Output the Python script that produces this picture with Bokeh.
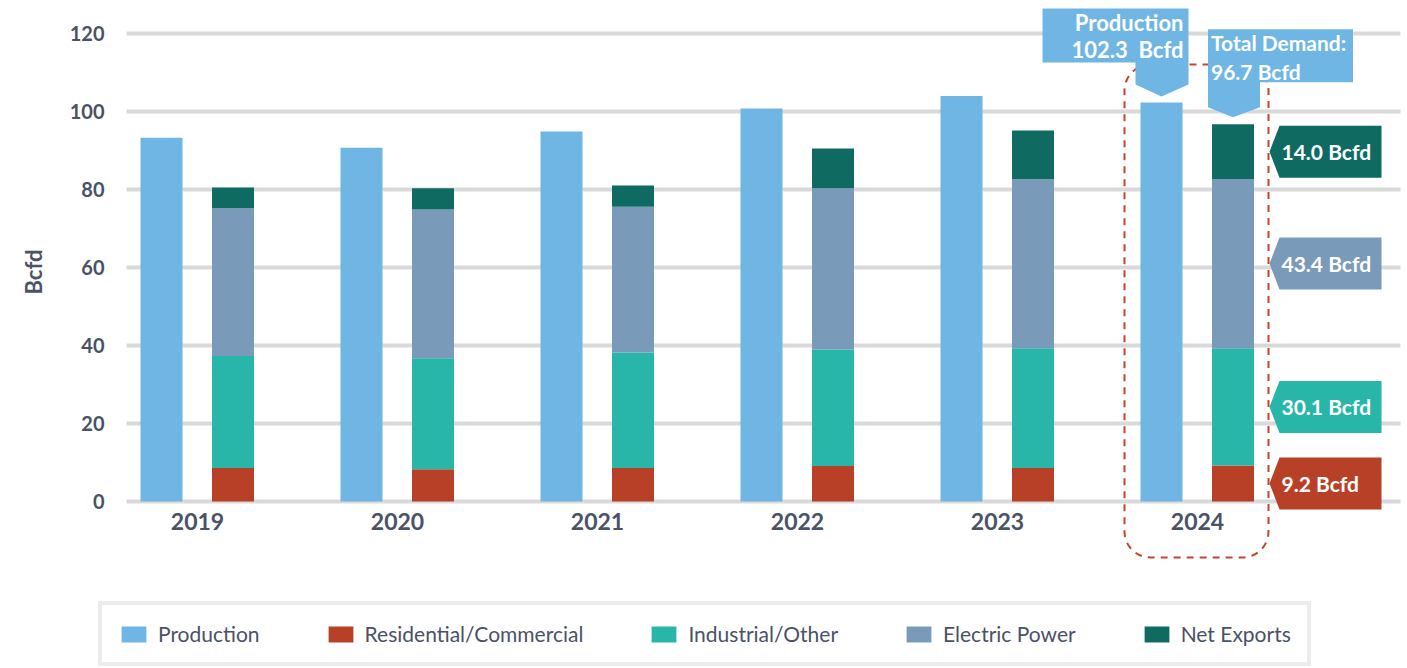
from bokeh.plotting import figure
from bokeh.models import (ColumnDataSource, FixedTicker, Legend, LegendItem, Title,
                          BoxAnnotation, Range1d)
from bokeh.core.properties import value
from bokeh.embed import file_html
from bokeh.resources import INLINE

# ---------------- data ----------------
years = ["2019", "2020", "2021", "2022", "2023", "2024"]
production = [93.3, 90.7, 94.9, 100.8, 104.0, 102.3]
residential = [8.6, 8.3, 8.6, 9.1, 8.6, 9.2]
industrial = [28.7, 28.4, 29.6, 29.9, 30.7, 30.1]
electric = [37.9, 38.2, 37.4, 41.3, 43.3, 43.4]
net_exports = [5.3, 5.4, 5.4, 10.2, 12.5, 14.0]
y_ticks = [0, 20, 40, 60, 80, 100, 120]
series_names = ["Residential/Commercial", "Industrial/Other", "Electric Power", "Net Exports"]

# ---------------- styles ----------------
C_PROD = "#6fb6e5"
C_RES = "#b84026"
C_IND = "#28b6a8"
C_ELEC = "#799bb9"
C_NET = "#0f6b62"
C_TEXT = "#4a5266"
C_GRID = "#d9d9d9"
C_HL = "#c4452c"
FONT = "Lato"

W, H = 1407, 668
LEFT = 94         # frame left edge (px)
PX_X = 200.0      # px per category
PX_Y = 3.9        # px per Bcfd
X0 = 197          # px of first category centre
Y0 = 501          # px of zero line

def dx(px):       # px offset -> data x offset
    return px / PX_X

def dy(px):       # px offset -> data y offset
    return px / PX_Y

x_start = (LEFT - X0) / PX_X
x_end = (W - X0) / PX_X
y_end = Y0 / PX_Y
y_start = -(H - Y0) / PX_Y

p = figure(width=W, height=H, output_backend="svg", toolbar_location=None,
           x_range=Range1d(x_start, x_end), y_range=Range1d(y_start, y_end),
           min_border_left=LEFT, min_border_right=0, min_border_top=0, min_border_bottom=0)
p.outline_line_color = None
p.background_fill_color = "white"
p.border_fill_color = "white"

# axes
p.xaxis.visible = False
p.xgrid.grid_line_color = None
p.ygrid.grid_line_color = None
yax = p.yaxis[0]
yax.ticker = FixedTicker(ticks=y_ticks)
yax.axis_line_color = None
yax.major_tick_line_color = None
yax.minor_tick_line_color = None
yax.major_tick_out = 0
yax.major_tick_in = 0
yax.minor_tick_out = 0
yax.major_label_text_font = FONT
yax.major_label_text_font_style = "bold"
yax.major_label_text_font_size = "20px"
yax.major_label_text_color = C_TEXT
yax.major_label_standoff = -10

# y-axis title ("Bcfd"), placed near the middle of the 0-120 scale
p.add_layout(Title(text="Bcfd", align="right", offset=249, vertical_align="top",
                   text_font=FONT, text_font_style="bold", text_font_size="22px",
                   text_color=C_TEXT, standoff=36), "left")

# horizontal gridlines (from 126px to 1400px)
gx0 = (126 - X0) / PX_X
gx1 = (1400 - X0) / PX_X
p.segment(x0=[gx0] * len(y_ticks), x1=[gx1] * len(y_ticks), y0=y_ticks, y1=y_ticks,
          line_color=C_GRID, line_width=4)

xs = list(range(len(years)))
OFF_P = dx(-36)
OFF_S = dx(35.5)
BW = dx(42)

src = ColumnDataSource(dict(
    x=xs, xp=[x + OFF_P for x in xs], xs_=[x + OFF_S for x in xs], year=years,
    production=production, residential=residential, industrial=industrial,
    electric=electric, net_exports=net_exports,
))

# highlight box around 2024
hi = len(years) - 1
hl = BoxAnnotation(left=hi + dx(1124 - 1197), right=hi + dx(1268 - 1197),
                   top=dy(Y0 - 64), bottom=-dy(557 - Y0),
                   fill_alpha=0, line_color=C_HL, line_alpha=1, line_width=2,
                   line_dash="7 6", border_radius=26, level="underlay")
p.add_layout(hl)

r_prod = p.vbar(x="xp", top="production", bottom=0, width=BW, source=src,
                fill_color=C_PROD, line_color=None)
stack_r = p.vbar_stack(["residential", "industrial", "electric", "net_exports"],
                       x="xs_", width=BW, source=src,
                       color=[C_RES, C_IND, C_ELEC, C_NET], line_color=None)

# year labels
p.text(x="x", y=-dy(521 - Y0), text="year", source=src, text_font=value(FONT),
       text_font_style="bold", text_font_size="23px", text_color=C_TEXT,
       text_align="center", text_baseline="middle")

# ---------- 2024 callouts ----------
xp5 = hi + OFF_P
xs5 = hi + OFF_S
prod5 = production[hi]
total5 = residential[hi] + industrial[hi] + electric[hi] + net_exports[hi]

# Production callout (px geometry relative to tip)
tipx, tipy = xp5, prod5 + dy(6)
px_pts = [(-119, -88), (27, -88), (27, -12), (0, 0), (-26, -12), (-26, -34), (-119, -34)]
p.patch([tipx + dx(a) for a, b in px_pts], [tipy - dy(b) for a, b in px_pts],
        fill_color=C_PROD, line_color=None)
p.text(x=[tipx + dx(22), tipx + dx(22)], y=[tipy + dy(74), tipy + dy(47)],
       text=["Production", f"{prod5:.1f}\u00a0\u00a0Bcfd"], text_font=value(FONT),
       text_font_style="bold", text_font_size="22px", text_color="white",
       text_align="right", text_baseline="middle")

# Total demand callout
tipx2, tipy2 = xs5, total5 + dy(7)
td_pts = [(-25, -88), (120, -88), (120, -35), (27, -35), (27, -10), (0, 0), (-25, -10)]
p.patch([tipx2 + dx(a) for a, b in td_pts], [tipy2 - dy(b) for a, b in td_pts],
        fill_color=C_PROD, line_color=None)
p.text(x=[tipx2 + dx(-22), tipx2 + dx(-22)], y=[tipy2 + dy(75), tipy2 + dy(46)],
       text=["Total Demand:", f"{total5:.1f} Bcfd"], text_font=value(FONT),
       text_font_style="bold", text_font_size="21px", text_color="white",
       text_align="left", text_baseline="middle")

# Segment value tags on the right
vals5 = [residential[hi], industrial[hi], electric[hi], net_exports[hi]]
cols = [C_RES, C_IND, C_ELEC, C_NET]
base = 0.0
tag_x0 = xs5 + dx(1269 - 1232.5)
for v, c in zip(vals5, cols):
    cy = base + v / 2
    base += v
    pts = [(0, 0), (10, 26), (112, 26), (112, -26), (10, -26)]
    p.patch([tag_x0 + dx(a) for a, b in pts], [cy + dy(b) for a, b in pts],
            fill_color=c, line_color=None)
    p.text(x=[tag_x0 + dx(12)], y=[cy], text=[f"{v:.1f} Bcfd"], text_font=value(FONT),
           text_font_style="bold", text_font_size="21px", text_color="white",
           text_align="left", text_baseline="middle")

# legend
items = [LegendItem(label="Production", renderers=[r_prod])]
for name, r in zip(series_names, stack_r):
    items.append(LegendItem(label=name, renderers=[r]))
legend = Legend(items=items, orientation="horizontal", location=(4, 2),
                glyph_width=31, glyph_height=20, label_standoff=9, spacing=65,
                padding=16, margin=0,
                label_text_font=FONT, label_text_font_size="21px",
                label_text_color=C_TEXT,
                border_line_color=C_GRID, border_line_width=4,
                background_fill_color="white", background_fill_alpha=1)
p.add_layout(legend)

open("out.html", "w").write(file_html(p, INLINE))
